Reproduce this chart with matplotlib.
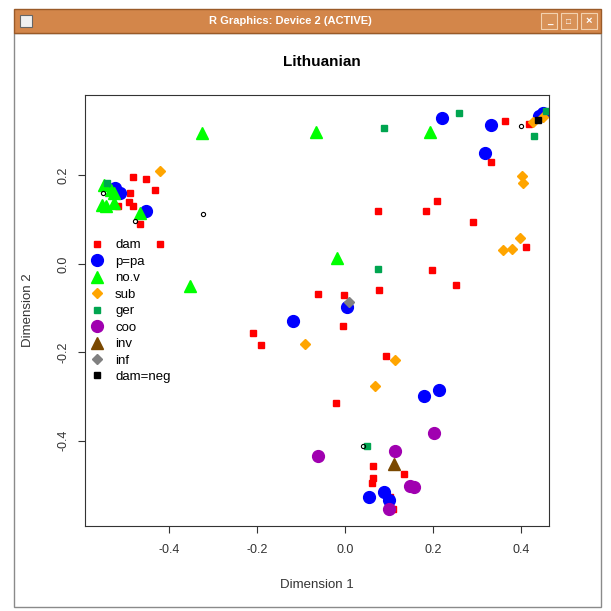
import matplotlib
matplotlib.use("Agg")
import matplotlib.pyplot as plt
from matplotlib.patches import Rectangle
from matplotlib.lines import Line2D

plt.rcParams['font.family'] = ['Liberation Sans', 'DejaVu Sans']

# values (Dimension 1, Dimension 2)
dam_x = [-0.482, -0.452, -0.432, -0.489, -0.491, -0.482, -0.516, -0.466, -0.420,
         0.075, 0.184, 0.209, 0.291, 0.332, 0.364, 0.418, 0.411, 0.198, 0.252,
         -0.061, -0.002, 0.077, -0.005, -0.209, -0.191, 0.093, -0.020,
         0.064, 0.064, 0.061, 0.134, 0.102, 0.110]
dam_y = [0.197, 0.192, 0.167, 0.161, 0.140, 0.131, 0.131, 0.090, 0.045,
         0.120, 0.120, 0.143, 0.095, 0.231, 0.324, 0.317, 0.038, -0.014, -0.048,
         -0.068, -0.070, -0.059, -0.140, -0.156, -0.183, -0.208, -0.314,
         -0.458, -0.484, -0.496, -0.475, -0.527, -0.554]

ppa_x = [-0.511, -0.523, -0.452, 0.220, 0.332, 0.318, 0.441, 0.450, 0.004,
         -0.118, 0.180, 0.214, 0.055, 0.089, 0.100]
ppa_y = [0.161, 0.172, 0.120, 0.330, 0.314, 0.251, 0.334, 0.342, -0.097,
         -0.129, -0.299, -0.285, -0.527, -0.516, -0.534]

nov_x = [-0.548, -0.532, -0.525, -0.552, -0.543, -0.525, -0.466, -0.325, -0.066,
         0.193, -0.018, -0.352]
nov_y = [0.179, 0.167, 0.161, 0.133, 0.131, 0.138, 0.115, 0.296, 0.299,
         0.299, 0.014, -0.050]

sub_x = [-0.420, 0.427, 0.450, 0.402, 0.405, 0.398, 0.359, 0.380, -0.091, 0.114, 0.068]
sub_y = [0.210, 0.321, 0.333, 0.199, 0.183, 0.059, 0.032, 0.034, -0.181, -0.217, -0.276]

ger_x = [-0.541, 0.089, 0.259, 0.457, 0.430, 0.075, 0.050]
ger_y = [0.183, 0.308, 0.342, 0.346, 0.290, -0.011, -0.411]

coo_x = [0.202, -0.061, 0.114, 0.148, 0.157, 0.100]
coo_y = [-0.382, -0.434, -0.423, -0.502, -0.504, -0.554]

inv_x = [0.111]
inv_y = [-0.452]

inf_x = [0.009]
inf_y = [-0.086]

neg_x = [0.439]
neg_y = [0.326]

other_x = [-0.550, -0.477, -0.323, 0.400, 0.041]
other_y = [0.161, 0.097, 0.113, 0.312, -0.411]

labels = ['dam', 'p=pa', 'no.v', 'sub', 'ger', 'coo', 'inv', 'inf', 'dam=neg']

W = 611
fig = plt.figure(figsize=(6.11, 6.11), dpi=100)
fig.patch.set_facecolor('white')


def fx(p):
    return p / W


def fy(p):
    return 1 - p / W


# window frame (kept behind the axes)
fig.add_artist(Rectangle((fx(14), fy(607)), fx(587), 607 / W - 33 / W,
                         transform=fig.transFigure, facecolor='white',
                         edgecolor='#8a8a8a', lw=1, zorder=-5))
fig.add_artist(Rectangle((fx(14), fy(33)), fx(587), 24 / W,
                         transform=fig.transFigure, facecolor='#d3864a',
                         edgecolor='#9a5a28', lw=1, zorder=-4))
fig.add_artist(Rectangle((fx(20), fy(27)), fx(12), 12 / W,
                         transform=fig.transFigure, facecolor='#f0f0f0',
                         edgecolor='#666666', lw=0.8, zorder=-3))
for bx in [541, 561, 581]:
    fig.add_artist(Rectangle((fx(bx), fy(29)), fx(16), 16 / W,
                             transform=fig.transFigure, facecolor='#d89258',
                             edgecolor='#f3d2b0', lw=0.8, zorder=-3))
fig.text(fx(550), fy(24), '_', color='white', fontsize=7, ha='center', fontweight='bold')
fig.text(fx(569), fy(24), '□', color='white', fontsize=6, ha='center', fontweight='bold')
fig.text(fx(589), fy(24), '×', color='white', fontsize=8, ha='center', fontweight='bold')
fig.text(fx(290), fy(21), 'R Graphics: Device 2 (ACTIVE)', color='white',
         fontsize=8, ha='center', va='center', fontweight='bold')

ax = fig.add_axes([fx(85), fy(526), fx(464), (526 - 95) / W])

ax.plot(dam_x, dam_y, 's', color='red', ms=5, ls='none')
ax.plot(ppa_x, ppa_y, 'o', color='blue', ms=8.5, ls='none')
ax.plot(nov_x, nov_y, '^', color='#00ff00', ms=9, ls='none')
ax.plot(sub_x, sub_y, 'D', color='orange', ms=5, ls='none')
ax.plot(ger_x, ger_y, 's', color='#00a550', ms=5, ls='none')
ax.plot(coo_x, coo_y, 'o', color='#a000b0', ms=8.5, ls='none')
ax.plot(inv_x, inv_y, '^', color='#7a4800', ms=9, ls='none')
ax.plot(inf_x, inf_y, 'D', color='gray', ms=5, ls='none')
ax.plot(neg_x, neg_y, 's', color='black', ms=5, ls='none')
ax.plot(other_x, other_y, 'o', mfc='none', mec='black', mew=0.8, ms=3, ls='none')

ax.set_xlim(-0.591, 0.464)
ax.set_ylim(-0.593, 0.382)
ax.set_xticks([-0.4, -0.2, 0.0, 0.2, 0.4])
ax.set_xticklabels(['-0.4', '-0.2', '0.0', '0.2', '0.4'])
ax.set_yticks([-0.4, -0.2, 0.0, 0.2])
ax.set_yticklabels(['-0.4', '-0.2', '0.0', '0.2'], rotation=90, va='center')
ax.tick_params(direction='out', length=5, width=0.8, labelsize=9, pad=8,
               colors='#333333')
ax.tick_params(axis='y', pad=6)
for s in ax.spines.values():
    s.set_linewidth(0.8)
    s.set_color('#333333')

handles = [
    Line2D([], [], marker='s', color='red', ms=5, ls='none'),
    Line2D([], [], marker='o', color='blue', ms=8.5, ls='none'),
    Line2D([], [], marker='^', color='#00ff00', ms=9, ls='none'),
    Line2D([], [], marker='D', color='orange', ms=5, ls='none'),
    Line2D([], [], marker='s', color='#00a550', ms=5, ls='none'),
    Line2D([], [], marker='o', color='#a000b0', ms=8.5, ls='none'),
    Line2D([], [], marker='^', color='#7a4800', ms=9, ls='none'),
    Line2D([], [], marker='D', color='gray', ms=5, ls='none'),
    Line2D([], [], marker='s', color='black', ms=5, ls='none'),
]
ax.legend(handles, labels, loc='upper left', bbox_to_anchor=(-0.012, 0.687),
          frameon=False, fontsize=9.5, handlelength=1.2, handletextpad=0.8,
          labelspacing=0.32, borderaxespad=0.3)

fig.text(fx(322), fy(62), 'Lithuanian', fontsize=11, fontweight='bold',
         ha='center', va='center')
fig.text(fx(317), fy(585), 'Dimension 1', fontsize=9.5, ha='center', va='center',
         color='#333333')
fig.text(fx(28), fy(310), 'Dimension 2', fontsize=9.5, ha='center', va='center',
         rotation=90, color='#333333')

fig.savefig('out.png', dpi=100)
